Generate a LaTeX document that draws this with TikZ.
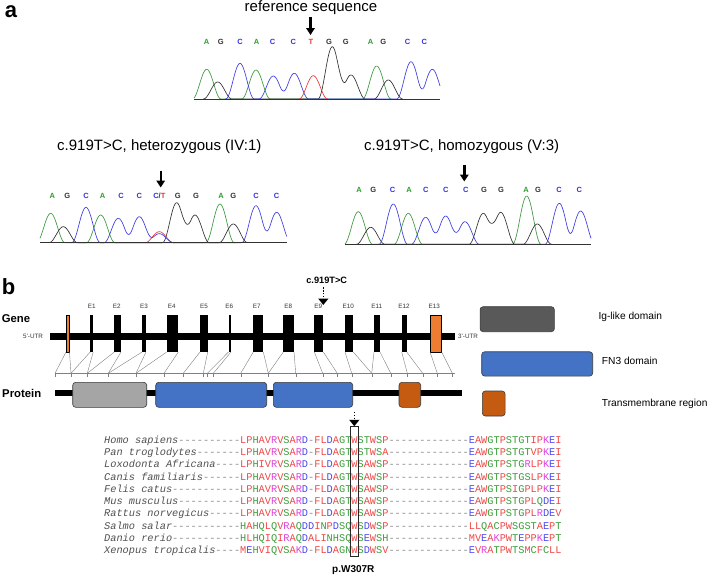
\documentclass[tikz,border=0pt]{standalone}
\usepackage{fontspec}
\setmainfont{Liberation Sans}
\newfontfamily\alnfont{Liberation Mono}
\usetikzlibrary{arrows.meta}
\definecolor{cA}{HTML}{2E9E2E}
\definecolor{cG}{HTML}{333333}
\definecolor{cC}{HTML}{3535E0}
\definecolor{cT}{HTML}{E53535}
\definecolor{tg}{HTML}{3A9A3A}
\definecolor{tk}{HTML}{303030}
\definecolor{tb}{HTML}{3C3CE0}
\definecolor{tr}{HTML}{E83A3A}
\definecolor{exor}{HTML}{ED7D31}
\definecolor{igg}{HTML}{A5A5A5}
\definecolor{igd}{HTML}{595959}
\definecolor{fnb}{HTML}{4472C4}
\definecolor{tmb}{HTML}{C55A11}
\definecolor{bord}{HTML}{3A3A3A}
\definecolor{aR}{HTML}{F04848}
\definecolor{aG}{HTML}{3A9E3A}
\definecolor{aB}{HTML}{4848F0}
\definecolor{aM}{HTML}{E040E0}
\definecolor{aD}{HTML}{8C8C8C}
\definecolor{nmc}{HTML}{505050}
\definecolor{lnk}{HTML}{808080}
\newcommand\defaa[2]{\expandafter\def\csname aln#1\endcsname{\textcolor{#2}{#1}}}
\defaa A{aR}\defaa V{aR}\defaa F{aR}\defaa P{aR}\defaa M{aR}\defaa I{aR}\defaa L{aR}\defaa W{aR}
\defaa D{aB}\defaa E{aB}
\defaa R{aM}\defaa K{aM}
\defaa S{aG}\defaa T{aG}\defaa Y{aG}\defaa H{aG}\defaa C{aG}\defaa N{aG}\defaa G{aG}\defaa Q{aG}
\defaa -{aD}
\makeatletter
\def\alnseq#1{\alnseq@#1\relax}
\def\alnseq@#1{\ifx\relax#1\else\csname aln#1\endcsname\expandafter\alnseq@\fi}
\makeatother
\begin{document}
\begin{tikzpicture}[x=1pt,y=-1pt,
  declare function={pk(\qa,\qb,\qc)=\qc*(cos(min(90,abs(\qa-\qb)*6.3)))^2;},
  ttl/.style={font=\fontsize{15}{18}\selectfont, inner sep=0},
  pl/.style={font=\fontsize{22}{26}\selectfont\bfseries, inner sep=0},
  nt/.style={font=\fontsize{7.5}{8}\selectfont\bfseries, inner sep=0, text height=5.4pt, text depth=0pt},
  sarrow/.style={line width=2.4pt, -{Triangle[width=8.5pt,length=7pt]}},
  trace/.style={line width=0.65pt},
  basel/.style={line width=1pt, draw=black!80},
  exon/.style={fill=black, inner sep=0, outer sep=0, minimum height=37pt},
  oexon/.style={fill=exor, draw=black, line width=0.5pt, inner sep=0, outer sep=0, minimum height=37pt},
  elab/.style={font=\fontsize{6.3}{7}\selectfont, text=black!80, inner sep=0},
  lbl/.style={font=\fontsize{11.3}{13}\selectfont\bfseries, inner sep=0},
  conn/.style={draw=lnk, line width=0.4pt},
  dom/.style={draw=bord, line width=0.6pt, rounded corners=3pt, inner sep=0, outer sep=0, minimum height=25pt},
  legt/.style={font=\fontsize{10.2}{12}\selectfont, inner sep=0, anchor=west},
  darrow/.style={line width=1.5pt, dash pattern=on 1.6pt off 1.3pt, -{Triangle[width=10pt,length=6.5pt]}},
  aln/.style={font=\fontsize{10.3}{12}\selectfont\alnfont, inner sep=0, anchor=base west},
  mut/.style={font=\fontsize{9.2}{11}\selectfont\bfseries, inner sep=0}]
\useasboundingbox[fill=white] (0,0) rectangle (708,576);

% ---------------- panel a ----------------
\node[pl] (pa) at (11,12) {a};
\node[ttl] (tref) at (311,8) {reference sequence};
\coordinate (ra1) at (310.5,17); \coordinate (ra2) at (310.5,35);
\draw[sarrow] (ra1) -- (ra2);
\foreach \px/\ch/\cc [count=\i] in {206.7/A/cA,220.7/G/cG,240/C/cC,256.7/A/cA,272.7/C/cC,293.3/C/cC,311/T/cT,329/G/cG,345.7/G/cG,370.7/A/cA,383.3/G/cG,407.7/C/cC,424.3/C/cC}
  \node[nt,text=\cc] (rl\i) at (\px,41.7) {\ch};
\draw[trace,tg] plot[domain=194:391,samples=200] (\x,{99-pk(\x,206.7,29.7)-pk(\x,256,29)-pk(\x,376.7,33)});
\draw[trace,tk] plot[domain=203:403,samples=200] (\x,{99-pk(\x,217.7,17)-pk(\x,332.3,52.3)-pk(\x,351,24)-pk(\x,388.3,19)});
\draw[trace,tb] plot[domain=225:440,samples=200] (\x,{99-pk(\x,240,35.7)-pk(\x,273.3,23)-pk(\x,294.3,25.7)-pk(\x,411,37.3)-pk(\x,432.3,29.7)});
\draw[trace,tr] plot[domain=299:328,samples=40] (\x,{99-pk(\x,313.3,23.3)});
\draw[basel] (194,99) -- (440,99);

% heterozygous
\node[ttl] (thet) at (159.3,146.7) {c.919T>C, heterozygous (IV:1)};
\coordinate (ha1) at (160.7,170.5); \coordinate (ha2) at (160.7,187.5);
\draw[sarrow] (ha1) -- (ha2);
\foreach \px/\ch/\cc [count=\i] in {52.3/A/cA,67.3/G/cG,86/C/cC,102.7/A/cA,121/C/cC,139.3/C/cC,177.7/G/cG,196/G/cG,221/A/cA,233.3/G/cG,256/C/cC,276.7/C/cC}
  \node[nt,text=\cc] (hl\i) at (\px,195.7) {\ch};
\node[nt] (hct) at (159.3,195.7) {\textcolor{cC}{C}\textcolor{cG}{/}\textcolor{cT}{T}};
\draw[trace,tg] plot[domain=40:235,samples=200] (\x,{242.7-pk(\x,50.7,29.4)-pk(\x,100.7,27.7)-pk(\x,220,38.7)});
\draw[trace,tk] plot[domain=49:248,samples=200] (\x,{242.7-pk(\x,63.3,16)-pk(\x,176.7,40)-pk(\x,195,27.7)-pk(\x,233.3,18.7)});
\draw[trace,tr] plot[domain=145:174,samples=40] (\x,{242.7-pk(\x,159.3,11)});
\draw[trace,tb] plot[domain=71:286.7,samples=200] (\x,{242.7-pk(\x,86,35.4)-pk(\x,118.3,24.4)-pk(\x,139.3,26)-pk(\x,159.3,9)-pk(\x,256,37)-pk(\x,276.7,30.4)});
\draw[basel] (40,242.7) -- (286.7,242.7);

% homozygous
\node[ttl] (thom) at (461.7,146.7) {c.919T>C, homozygous (V:3)};
\coordinate (oa1) at (464.3,164.5); \coordinate (oa2) at (464.3,181.5);
\draw[sarrow] (oa1) -- (oa2);
\foreach \px/\ch/\cc [count=\i] in {359/A/cA,373.3/G/cG,392.7/C/cC,409/A/cA,425.7/C/cC,445.7/C/cC,465.7/C/cC,484/G/cG,501/G/cG,526/A/cA,538/G/cG,559/C/cC,579.3/C/cC}
  \node[nt,text=\cc] (ol\i) at (\px,190) {\ch};
\draw[trace,tg] plot[domain=345:541,samples=200] (\x,{244.3-pk(\x,358.3,32.6)-pk(\x,408.3,31)-pk(\x,526.7,48.3)});
\draw[trace,tk] plot[domain=356:552,samples=200] (\x,{244.3-pk(\x,370.7,17)-pk(\x,483.3,31)-pk(\x,500.7,32)-pk(\x,537.3,20.3)});
\draw[trace,tb] plot[domain=378:591,samples=200] (\x,{244.3-pk(\x,393.3,40.3)-pk(\x,425.7,27)-pk(\x,445.7,28.3)-pk(\x,465,22.6)-pk(\x,559.3,41)-pk(\x,580.7,33.3)});
\draw[basel] (345,244.3) -- (591,244.3);

% ---------------- panel b ----------------
\node[pl] (pb) at (8.5,286.7) {b};
\node[lbl] (gene) at (16,318.3) {Gene};
\node[lbl] (prot) at (21.7,393.3) {Protein};
\node[elab] (u5) at (33,336.7) {5'-UTR};
\node[elab] (u3) at (468,336.7) {3'-UTR};
\coordinate (gL) at (50,336.7); \coordinate (gR) at (455,336.7);
\draw[line width=6.7pt] (gL) -- (gR);
\coordinate (bL) at (55,373.3); \coordinate (bR) at (455,373.3);
\draw[conn] (bL) -- (bR);
% exons: left/right/target-left/target-right/name
\foreach \l/\r/\ta/\tb/\n in {90.2/93.2/71/87.3/1,114.3/121/87.3/108.3/2,142/146/108.3/136/3,166.7/178.3/136/164/4,200/207.7/183.3/203.3/5,228.5/231/207.3/213.3/6,253.3/263.3/240.7/268.3/7,283.3/294/268.3/295.7/8,314.3/323.3/322.7/337.3/9,345/353.3/351.7/371.7/10,374/380/371.7/390.7/11,401.7/406.7/407.3/422.7/12}{
  \node[exon, minimum width={\r-\l}] (e\n) at ({(\l+\r)/2},333.5) {};
  \coordinate (pl\n) at (\ta,373.3); \coordinate (pr\n) at (\tb,373.3);
  \draw[conn] (e\n.south west) -- (pl\n);
  \draw[conn] (e\n.south east) -- (pr\n);
  \draw[conn] (pl\n) -- ++(0,3.5);
  \draw[conn] (pr\n) -- ++(0,3.5);
}
\node[oexon, minimum width=3.5pt] (e0) at (67.75,333.5) {};
\node[oexon, minimum width=11.7pt] (e13) at (435.85,333.5) {};
\coordinate (pl0) at (55,373.3); \coordinate (pr0) at (71,373.3);
\coordinate (pl13) at (437.3,373.3); \coordinate (pr13) at (452.3,373.3);
\foreach \n in {0,13}{
  \draw[conn] (e\n.south west) -- (pl\n);
  \draw[conn] (e\n.south east) -- (pr\n);
  \draw[conn] (pl\n) -- ++(0,3.5);
  \draw[conn] (pr\n) -- ++(0,3.5);
}
\foreach \px/\n in {91.7/1,116.7/2,144/3,171.7/4,204/5,229.3/6,256.7/7,288.3/8,318.3/9,348.3/10,376.7/11,404/12,434.3/13}
  \node[elab] (le\n) at (\px,306.7) {E\n};
\node[mut] (mutl) at (326.7,280) {c.919T>C};
\coordinate (m1) at (323.3,287); \coordinate (m2) at (323.3,305);
\draw[darrow] (m1) -- (m2);

% protein
\coordinate (pL) at (55,393.3); \coordinate (pR) at (461.7,393.3);
\draw[line width=6pt] (pL) -- (pR);
\node[dom, fill=igg, minimum width=74pt] (dig) at (109.7,394.8) {};
\node[dom, fill=fnb, minimum width=111pt] (dfn1) at (211.2,394.8) {};
\node[dom, fill=fnb, minimum width=79.4pt] (dfn2) at (313,394.8) {};
\node[dom, fill=tmb, minimum width=21.7pt] (dtm) at (409.85,394.8) {};

% legend
\node[dom, fill=igd, minimum width=74.3pt] (lig) at (517.2,319.2) {};
\node[legt] (tig) at (598.3,317.3) {Ig-like domain};
\node[dom, fill=fnb, minimum width=111pt, minimum height=24.3pt] (lfn) at (537.2,363.9) {};
\node[legt] (tfn) at (601.7,360.7) {FN3 domain};
\node[dom, fill=tmb, minimum width=22.7pt] (ltm) at (493.7,403.5) {};
\node[legt] (ttm) at (601.7,404.3) {Transmembrane region};

% alignment
\node[aln] (r1) at (104,443.4) {{\itshape\color{nmc}Homo sapiens}\alnseq{----------LPHAVRVSARD-FLDAGTWSTWSP-------------EAWGTPSTGTIPKEI}};
\node[aln] (r2) at (104,455.6) {{\itshape\color{nmc}Pan troglodytes}\alnseq{-------LPHAVRVSARD-FLDAGTWSTWSA-------------EAWGTPSTGTVPKEI}};
\node[aln] (r3) at (104,467.8) {{\itshape\color{nmc}Loxodonta Africana}\alnseq{----LPHIVRVSARD-FLDAGTWSAWSP-------------EAWGTPSTGRLPKEI}};
\node[aln] (r4) at (104,480.1) {{\itshape\color{nmc}Canis familiaris}\alnseq{------LPHAVRVSARD-FLDAGTWSAWSP-------------EAWGTPSTGSLPKEI}};
\node[aln] (r5) at (104,492.3) {{\itshape\color{nmc}Felis catus}\alnseq{-----------LPHAVRVSARD-FLDAGTWSAWSP-------------EAWGTPSIGPLPKEI}};
\node[aln] (r6) at (104,504.5) {{\itshape\color{nmc}Mus musculus}\alnseq{----------LPHAVRVSARD-FLDAGTWSAWSP-------------EAWGTPSTGPLQDEI}};
\node[aln] (r7) at (104,516.7) {{\itshape\color{nmc}Rattus norvegicus}\alnseq{-----LPHAVRVSARD-FLDAGTWSAWSP-------------EAWGTPSTGPLRDEV}};
\node[aln] (r8) at (104,529.0) {{\itshape\color{nmc}Salmo salar}\alnseq{-----------HAHQLQVRAQDDINPDSQWSDWSP-------------LLQACPWSGSTAEPT}};
\node[aln] (r9) at (104,541.2) {{\itshape\color{nmc}Danio rerio}\alnseq{-----------HLHQIQIRAQDALINHSQWSEWSH-------------MVEAKPWTEPPKEPT}};
\node[aln] (r10) at (104,553.4) {{\itshape\color{nmc}Xenopus tropicalis}\alnseq{----MEHVIQVSAKD-FLDAGNWSDWSV-------------EVRATPWTSMCFCLL}};
\node[draw=black!85, line width=0.9pt, minimum width=7.5pt, minimum height=130pt, inner sep=0] (wbox) at (354.3,491.7) {};
\coordinate (pa1) at (354.3,411.7);
\draw[darrow] (pa1) -- (wbox.north);
\node[mut, font=\fontsize{10}{12}\selectfont\bfseries] (pw) at (353.3,570) {p.W307R};
\end{tikzpicture}
\end{document}
